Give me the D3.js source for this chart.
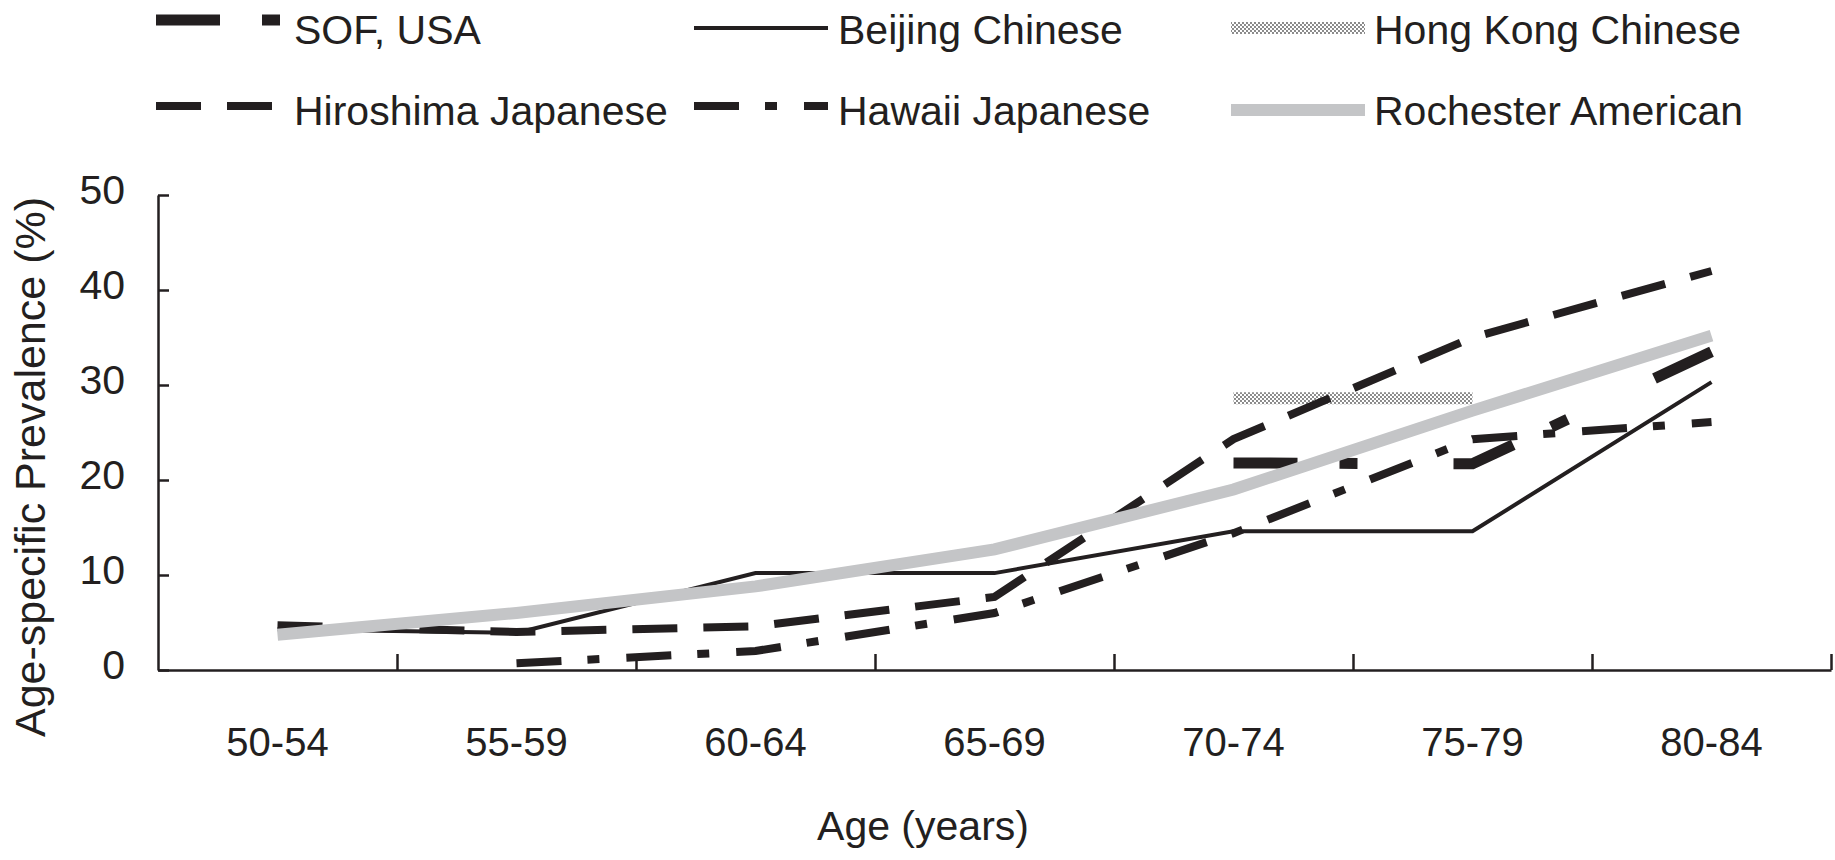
<!DOCTYPE html>
<meta charset="utf-8">
<script src="https://cdn.jsdelivr.net/npm/d3@7"></script>
<style>
  body { margin: 0; background: #fff; }
  text { font-family: "Liberation Sans", Arial, Helvetica, sans-serif; fill: #231f20; }
</style>
<body>
<svg width="1835" height="860" class="chart"></svg>
<script>
  // age groups and prevalence (%)
  const categories = ['50-54', '55-59', '60-64', '65-69', '70-74', '75-79', '80-84'];
  const sofUSA = [null, null, null, null, 21.8, 21.7, 33.5];
  const beijingChinese = [4.3, 3.9, 10.2, 10.2, 14.6, 14.6, 30.3];
  const hongKongChinese = [null, null, null, null, 28.6, 28.6, null];
  const hiroshimaJapanese = [4.7, 4.0, 4.6, 7.7, 24.3, 35.0, 42.0];
  const hawaiiJapanese = [null, 0.7, 2.0, 6.0, 14.4, 24.3, 26.1];
  const rochesterAmerican = [3.7, 6.0, 8.8, 12.7, 19.0, 27.3, 35.2];
  const yTicks = [0, 10, 20, 30, 40, 50];

  const ink = '#231f20';
  const grey = '#c4c5c7';

  // drawing order: stipple first, grey line on top
  const series = [
    { name: 'Hong Kong Chinese', values: hongKongChinese, stroke: 'url(#stipple)', width: 12, dash: null, row: 0, col: 2, dy: -16 },
    { name: 'Beijing Chinese', values: beijingChinese, stroke: ink, width: 4, dash: null, row: 0, col: 1, dy: -16 },
    { name: 'Hiroshima Japanese', values: hiroshimaJapanese, stroke: ink, width: 8, dash: '45,26', row: 1, col: 0, dy: -19 },
    { name: 'Hawaii Japanese', values: hawaiiJapanese, stroke: ink, width: 8, dash: '45,26,12,27', row: 1, col: 1, dy: -19 },
    { name: 'SOF, USA', values: sofUSA, stroke: ink, width: 11, dash: '64,42,18,96', row: 0, col: 0, dy: -24 },
    { name: 'Rochester American', values: rochesterAmerican, stroke: grey, width: 12, dash: null, row: 1, col: 2, dy: -15 }
  ];

  const svg = d3.select('.chart');

  const defs = svg.append('defs');
  const pat = defs.append('pattern')
      .attr('id', 'stipple')
      .attr('patternUnits', 'userSpaceOnUse')
      .attr('width', 4)
      .attr('height', 4);
  pat.append('rect').attr('width', 4).attr('height', 4).attr('fill', '#fff');
  pat.append('circle').attr('cx', 1).attr('cy', 1).attr('r', 0.9).attr('fill', '#555');
  pat.append('circle').attr('cx', 3).attr('cy', 3).attr('r', 0.9).attr('fill', '#555');

  const x = d3.scaleBand().domain(categories).range([158, 1831]);
  const xEdge = d3.scaleLinear().domain([0, categories.length]).range([158, 1831]);
  const y = d3.scaleLinear().domain([0, 50]).range([670, 195]);

  // y axis, ticks pointing into the plot
  const yAxis = svg.append('g')
      .attr('transform', 'translate(158,0)')
      .call(d3.axisLeft(y).tickValues(yTicks).tickSize(-11).tickSizeOuter(0).tickPadding(33));
  yAxis.selectAll('line, path').attr('stroke', ink).attr('stroke-width', 2.5);
  yAxis.selectAll('text').attr('font-size', 41).attr('dy', '0.2em').style('font-family', null);

  // x axis: line with ticks between age groups
  const xAxis = svg.append('g')
      .attr('transform', 'translate(0,670)')
      .call(d3.axisBottom(xEdge).tickValues(d3.range(1, categories.length + 1)).tickSize(-16).tickSizeOuter(0).tickFormat(''));
  xAxis.selectAll('line, path').attr('stroke', ink).attr('stroke-width', 2.5);

  const xLabels = svg.append('g')
      .attr('transform', 'translate(0,670)')
      .call(d3.axisBottom(x).tickSize(0).tickPadding(58));
  xLabels.select('.domain').remove();
  xLabels.selectAll('text').attr('font-size', 40).style('font-family', null);

  svg.append('text')
      .attr('x', 923)
      .attr('y', 840)
      .attr('text-anchor', 'middle')
      .attr('font-size', 41)
      .text('Age (years)');

  svg.append('text')
      .attr('transform', 'translate(45,467) rotate(-90)')
      .attr('text-anchor', 'middle')
      .attr('font-size', 43)
      .text('Age-specific Prevalence (%)');

  const line = d3.line()
      .defined(d => d != null)
      .x((d, i) => x(categories[i]) + x.bandwidth() / 2)
      .y(d => y(d));

  svg.append('g')
      .selectAll('path')
      .data(series)
      .enter()
      .append('path')
      .attr('d', d => line(d.values))
      .attr('fill', 'none')
      .attr('stroke', d => d.stroke)
      .attr('stroke-width', d => d.width)
      .attr('stroke-dasharray', d => d.dash)
      .attr('stroke-linejoin', 'miter');

  // legend: 2 rows x 3 columns
  const legendX = [156, 694, 1231];
  const legendW = [125, 134, 134];
  const labelX = [294, 838, 1374];
  const rowBase = [44, 125];

  const legend = svg.append('g')
      .selectAll('g')
      .data(series)
      .enter()
      .append('g');

  legend.append('line')
      .attr('x1', d => legendX[d.col])
      .attr('x2', d => legendX[d.col] + legendW[d.col])
      .attr('y1', d => rowBase[d.row] + d.dy)
      .attr('y2', d => rowBase[d.row] + d.dy)
      .attr('stroke', d => d.stroke)
      .attr('stroke-width', d => d.width)
      .attr('stroke-dasharray', d => d.dash);

  legend.append('text')
      .attr('x', d => labelX[d.col])
      .attr('y', d => rowBase[d.row])
      .attr('font-size', 41)
      .text(d => d.name);
</script>
</body>
